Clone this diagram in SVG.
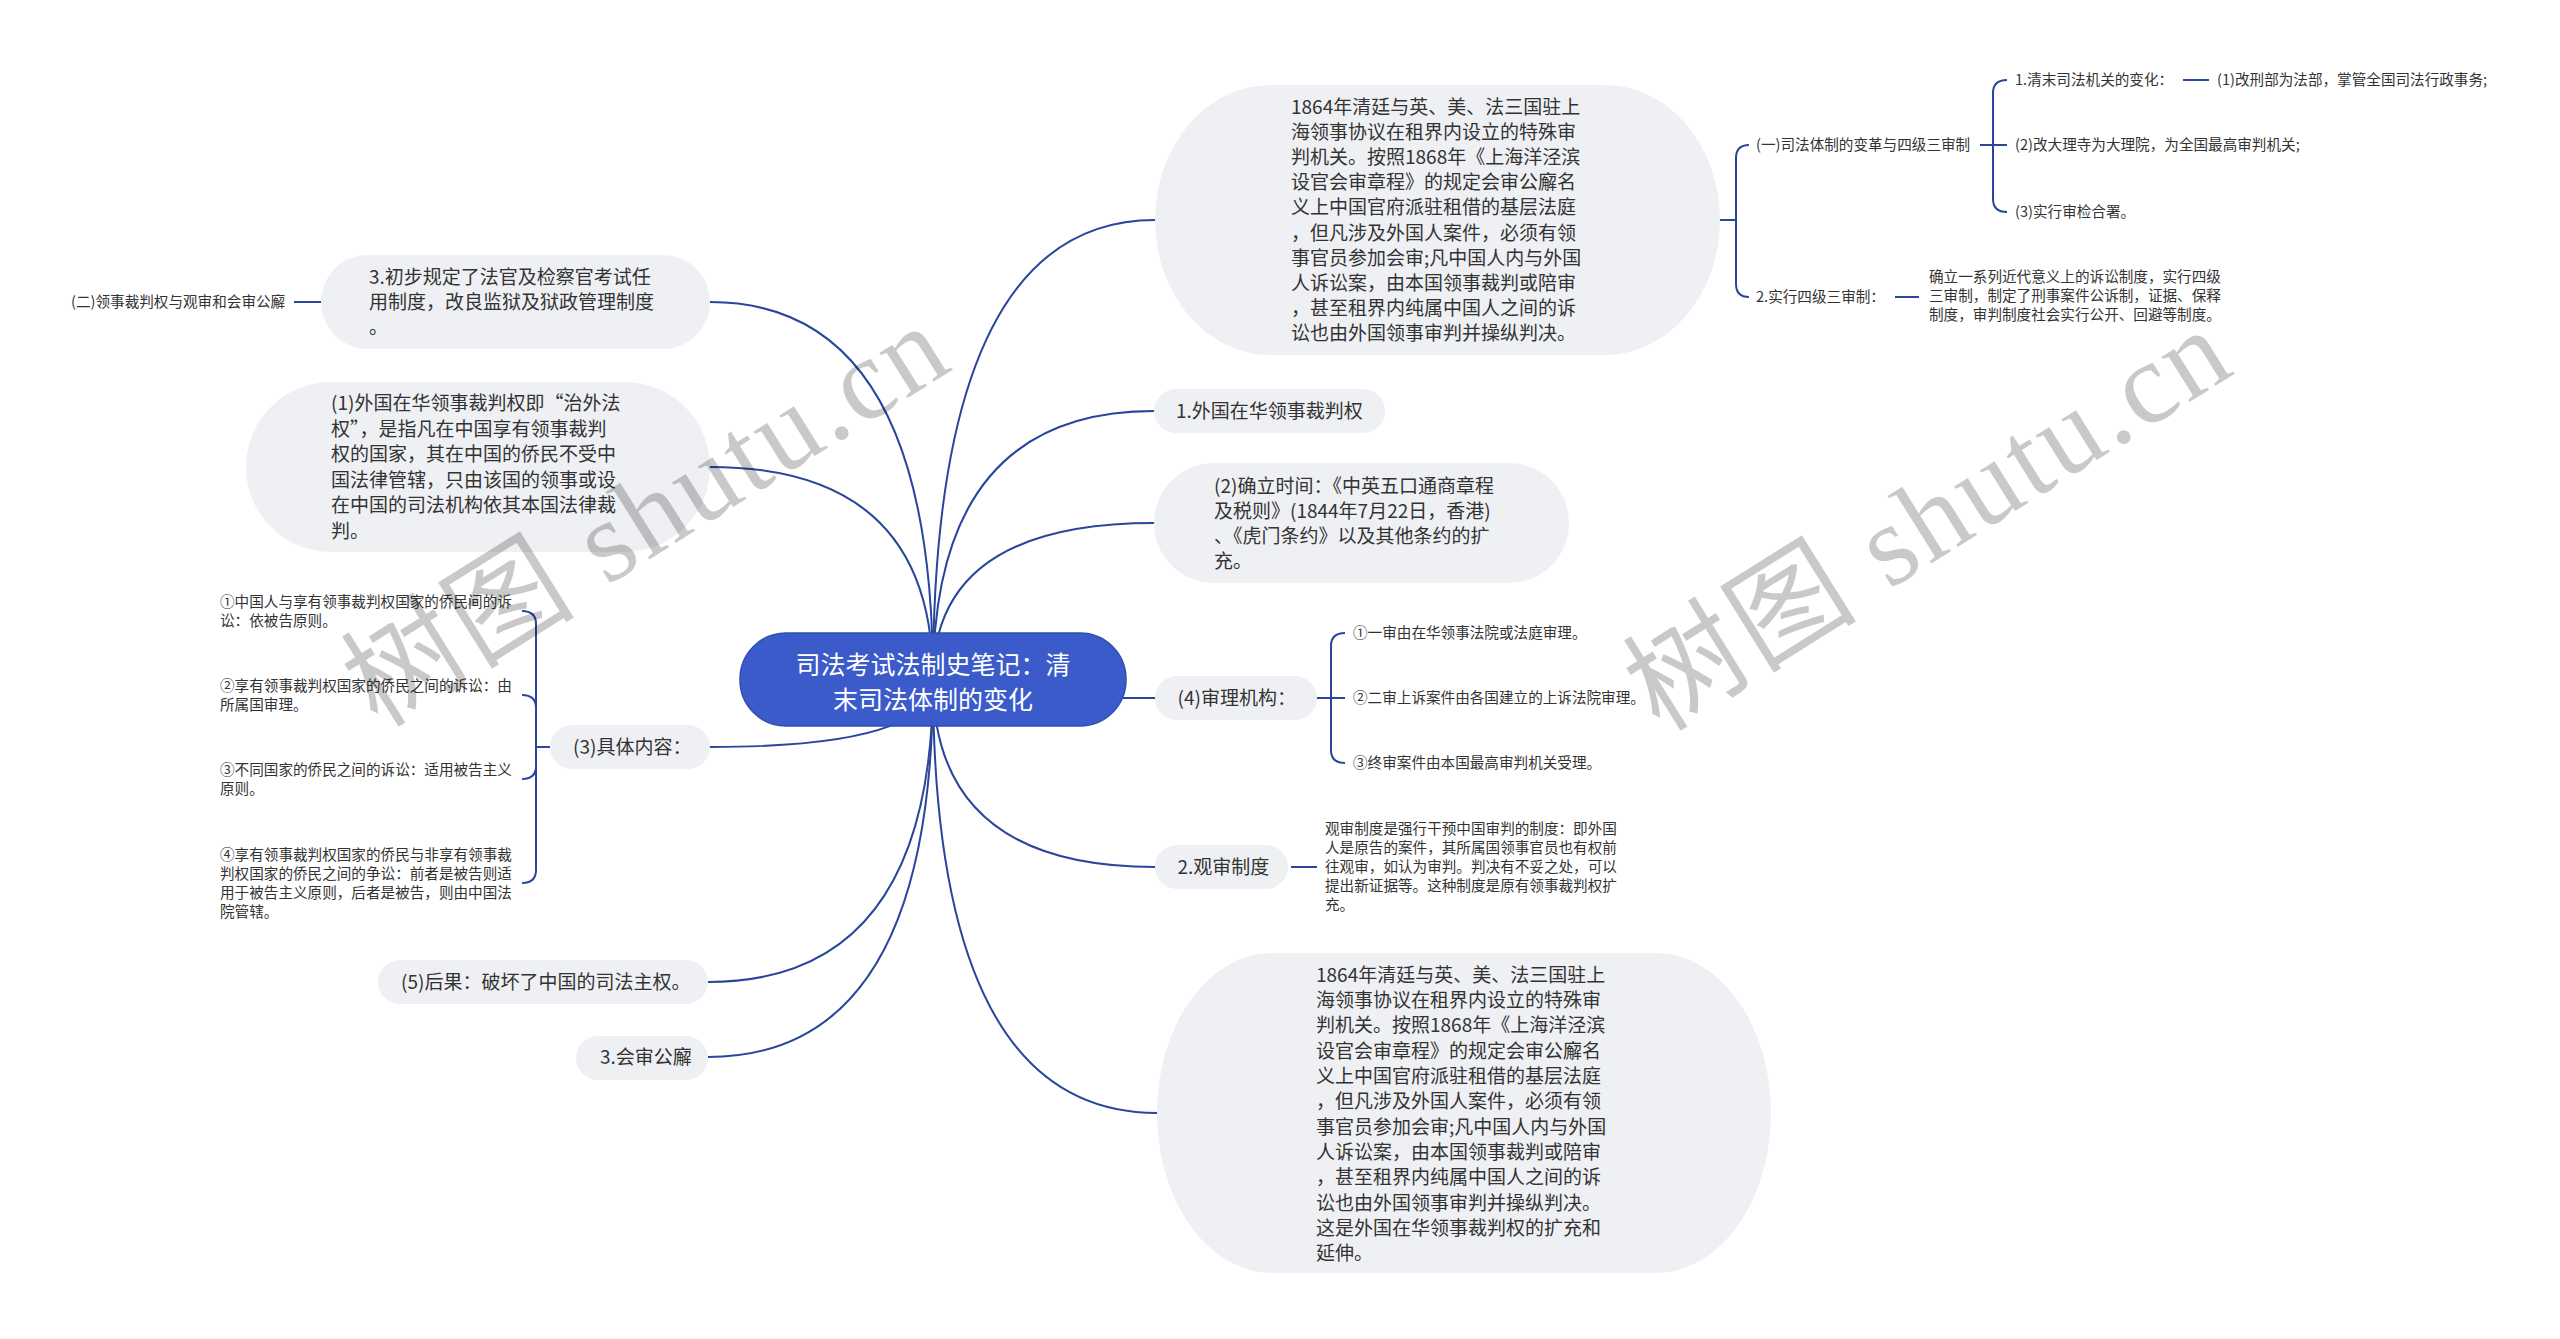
<svg xmlns="http://www.w3.org/2000/svg" width="2560" height="1339" viewBox="0 0 2560 1339">
<style>
.n{fill:#eef0f4}
.t{font-family:'Noto Sans CJK SC','Noto Sans',sans-serif;fill:#333333}
.b{font-size:19px}
.s{font-size:14.6px}
.c{fill:none;stroke:#29469c;stroke-width:2}
.wm{font-family:'Liberation Serif','Noto Sans CJK SC',serif;font-size:116px;fill:#000000;fill-opacity:0.21}
</style>
<rect width="2560" height="1339" fill="#ffffff"/>
<g id="connectors">
<path class="c" d="M933 680 Q933 220 1155 220"/>
<path class="c" d="M933 680 Q933 411 1154 411"/>
<path class="c" d="M933 680 Q933 523 1154 523"/>
<path class="c" d="M933 680 Q933 698 1155 698"/>
<path class="c" d="M933 680 Q933 867 1155 867"/>
<path class="c" d="M933 680 Q933 1113 1157 1113"/>
<path class="c" d="M933 680 Q933 302 710 302"/>
<path class="c" d="M933 680 Q933 467 710 467"/>
<path class="c" d="M933 680 Q933 747 710 747"/>
<path class="c" d="M933 680 Q933 982 708 982"/>
<path class="c" d="M933 680 Q933 1057 708 1057"/>
<path class="c" d="M1720 220 H1736 M1736 220 V158 Q1736 145 1749 145 M1736 220 V284 Q1736 297 1749 297"/>
<path class="c" d="M1980 145 H2007 M1993 145 V93 Q1993 80 2007 80 M1993 145 V199 Q1993 212 2007 212"/>
<path class="c" d="M2183 80 H2209"/>
<path class="c" d="M1895 297 H1919"/>
<path class="c" d="M1317 698 H1345 M1331 698 V646 Q1331 633 1345 633 M1331 698 V750 Q1331 763 1345 763"/>
<path class="c" d="M1291 867 H1317"/>
<path class="c" d="M550 747 H536 M536 747 V624 Q536 611 522 611 M536 747 V708 Q536 695 522 695 M536 747 V766 Q536 779 522 779 M536 747 V870 Q536 883 522 883"/>
<path class="c" d="M321 302 H294"/>
</g>
<g id="root">
<rect x="740" y="633" width="386" height="93" rx="46" fill="#3b5bca" stroke="#2f4eb3" stroke-width="1.5"/>
<text x="933" y="674" text-anchor="middle" font-family="'Noto Sans CJK SC','Noto Sans',sans-serif" font-size="25" fill="#ffffff">司法考试法制史笔记：清</text>
<text x="933" y="709" text-anchor="middle" font-family="'Noto Sans CJK SC','Noto Sans',sans-serif" font-size="25" fill="#ffffff">末司法体制的变化</text>
</g>
<g id="node-t1">
<rect class="n" x="1155" y="85" width="565" height="270" rx="115" ry="135"/>
<text class="t b" x="1291"><tspan x="1291" y="113.5">1864年清廷与英、美、法三国驻上</tspan><tspan x="1291" y="138.7">海领事协议在租界内设立的特殊审</tspan><tspan x="1291" y="163.9">判机关。按照1868年《上海洋泾滨</tspan><tspan x="1291" y="189.1">设官会审章程》的规定会审公廨名</tspan><tspan x="1291" y="214.3">义上中国官府派驻租借的基层法庭</tspan><tspan x="1291" y="239.5">，但凡涉及外国人案件，必须有领</tspan><tspan x="1291" y="264.7">事官员参加会审;凡中国人内与外国</tspan><tspan x="1291" y="289.9">人诉讼案，由本国领事裁判或陪审</tspan><tspan x="1291" y="315.1">，甚至租界内纯属中国人之间的诉</tspan><tspan x="1291" y="340.3">讼也由外国领事审判并操纵判决。</tspan></text>
</g>
<g id="node-t1-a"><text class="t s" x="1756" y="150.3">(一)司法体制的变革与四级三审制</text></g>
<g id="node-t1-a1"><text class="t s" x="2015" y="85.3">1.清末司法机关的变化：</text></g>
<g id="node-t1-a1a"><text class="t s" x="2217" y="85.3">(1)改刑部为法部，掌管全国司法行政事务;</text></g>
<g id="node-t1-a2"><text class="t s" x="2015" y="150.3">(2)改大理寺为大理院，为全国最高审判机关;</text></g>
<g id="node-t1-a3"><text class="t s" x="2015" y="217.3">(3)实行审检合署。</text></g>
<g id="node-t1-b"><text class="t s" x="1756" y="302.3">2.实行四级三审制：</text></g>
<g id="node-t1-b1"><text class="t s" x="1929"><tspan x="1929" y="282.3">确立一系列近代意义上的诉讼制度，实行四级</tspan><tspan x="1929" y="301.3">三审制，制定了刑事案件公诉制，证据、保释</tspan><tspan x="1929" y="320.3">制度，审判制度社会实行公开、回避等制度。</tspan></text></g>
<g id="node-r1">
<rect class="n" x="1154" y="389" width="231" height="44" rx="22"/>
<text class="t b" x="1176" y="417.8">1.外国在华领事裁判权</text>
</g>
<g id="node-r2">
<rect class="n" x="1154" y="463" width="415" height="120" rx="60"/>
<text class="t b" x="1214"><tspan x="1214" y="493.3">(2)确立时间：《中英五口通商章程</tspan><tspan x="1214" y="518.3">及税则》(1844年7月22日，香港)</tspan><tspan x="1214" y="543.3">、《虎门条约》以及其他条约的扩</tspan><tspan x="1214" y="568.3">充。</tspan></text>
</g>
<g id="node-r3">
<rect class="n" x="1155" y="676" width="162" height="44" rx="22"/>
<text class="t b" x="1177.5" y="704.8">(4)审理机构：</text>
</g>
<g id="node-r3a"><text class="t s" x="1353" y="638.3">①一审由在华领事法院或法庭审理。</text></g>
<g id="node-r3b"><text class="t s" x="1353" y="703.3">②二审上诉案件由各国建立的上诉法院审理。</text></g>
<g id="node-r3c"><text class="t s" x="1353" y="768.3">③终审案件由本国最高审判机关受理。</text></g>
<g id="node-r4">
<rect class="n" x="1155" y="845" width="133" height="44" rx="22"/>
<text class="t b" x="1177.5" y="873.8">2.观审制度</text>
</g>
<g id="node-r4a"><text class="t s" x="1325"><tspan x="1325" y="834.3">观审制度是强行干预中国审判的制度：即外国</tspan><tspan x="1325" y="853.3">人是原告的案件，其所属国领事官员也有权前</tspan><tspan x="1325" y="872.3">往观审，如认为审判。判决有不妥之处，可以</tspan><tspan x="1325" y="891.3">提出新证据等。这种制度是原有领事裁判权扩</tspan><tspan x="1325" y="910.3">充。</tspan></text></g>
<g id="node-t2">
<rect class="n" x="1157" y="953" width="614" height="320" rx="115" ry="160"/>
<text class="t b" x="1316"><tspan x="1316" y="981.8">1864年清廷与英、美、法三国驻上</tspan><tspan x="1316" y="1007.1">海领事协议在租界内设立的特殊审</tspan><tspan x="1316" y="1032.4">判机关。按照1868年《上海洋泾滨</tspan><tspan x="1316" y="1057.7">设官会审章程》的规定会审公廨名</tspan><tspan x="1316" y="1083">义上中国官府派驻租借的基层法庭</tspan><tspan x="1316" y="1108.3">，但凡涉及外国人案件，必须有领</tspan><tspan x="1316" y="1133.6">事官员参加会审;凡中国人内与外国</tspan><tspan x="1316" y="1158.9">人诉讼案，由本国领事裁判或陪审</tspan><tspan x="1316" y="1184.2">，甚至租界内纯属中国人之间的诉</tspan><tspan x="1316" y="1209.5">讼也由外国领事审判并操纵判决。</tspan><tspan x="1316" y="1234.8">这是外国在华领事裁判权的扩充和</tspan><tspan x="1316" y="1260.1">延伸。</tspan></text>
</g>
<g id="node-l1">
<rect class="n" x="321" y="255" width="389" height="94" rx="47"/>
<text class="t b" x="369"><tspan x="369" y="284.3">3.初步规定了法官及检察官考试任</tspan><tspan x="369" y="309.3">用制度，改良监狱及狱政管理制度</tspan><tspan x="369" y="334.3">。</tspan></text>
</g>
<g id="node-l1a"><text class="t s" x="71" y="307.3">(二)领事裁判权与观审和会审公廨</text></g>
<g id="node-l2">
<rect class="n" x="246" y="382" width="464" height="170" rx="85"/>
<text class="t b" x="331"><tspan x="331" y="410.1">(1)外国在华领事裁判权即“治外法</tspan><tspan x="331" y="435.6">权”，是指凡在中国享有领事裁判</tspan><tspan x="331" y="461.1">权的国家，其在中国的侨民不受中</tspan><tspan x="331" y="486.6">国法律管辖，只由该国的领事或设</tspan><tspan x="331" y="512.1">在中国的司法机构依其本国法律裁</tspan><tspan x="331" y="537.6">判。</tspan></text>
</g>
<g id="node-l3">
<rect class="n" x="550" y="725" width="160" height="44" rx="22"/>
<text class="t b" x="573" y="753.8">(3)具体内容：</text>
</g>
<g id="node-l3a"><text class="t s" x="220"><tspan x="220" y="607.3">①中国人与享有领事裁判权国家的侨民间的诉</tspan><tspan x="220" y="626.3">讼：依被告原则。</tspan></text></g>
<g id="node-l3b"><text class="t s" x="220"><tspan x="220" y="691.3">②享有领事裁判权国家的侨民之间的诉讼：由</tspan><tspan x="220" y="710.3">所属国审理。</tspan></text></g>
<g id="node-l3c"><text class="t s" x="220"><tspan x="220" y="775.3">③不同国家的侨民之间的诉讼：适用被告主义</tspan><tspan x="220" y="794.3">原则。</tspan></text></g>
<g id="node-l3d"><text class="t s" x="220"><tspan x="220" y="860.3">④享有领事裁判权国家的侨民与非享有领事裁</tspan><tspan x="220" y="879.3">判权国家的侨民之间的争讼：前者是被告则适</tspan><tspan x="220" y="898.3">用于被告主义原则，后者是被告，则由中国法</tspan><tspan x="220" y="917.3">院管辖。</tspan></text></g>
<g id="node-l4">
<rect class="n" x="378" y="960" width="330" height="44" rx="22"/>
<text class="t b" x="401" y="988.8">(5)后果：破坏了中国的司法主权。</text>
</g>
<g id="node-l5">
<rect class="n" x="576" y="1036" width="132" height="44" rx="22"/>
<text class="t b" x="600" y="1063.8">3.会审公廨</text>
</g>
<g id="watermark">
<text class="wm" x="645" y="555" text-anchor="middle" textLength="680" lengthAdjust="spacing" transform="rotate(-32 645 515)">树图 shutu.cn</text>
<text class="wm" x="1927" y="559" text-anchor="middle" textLength="680" lengthAdjust="spacing" transform="rotate(-32 1927 519)">树图 shutu.cn</text>
</g>
</svg>
